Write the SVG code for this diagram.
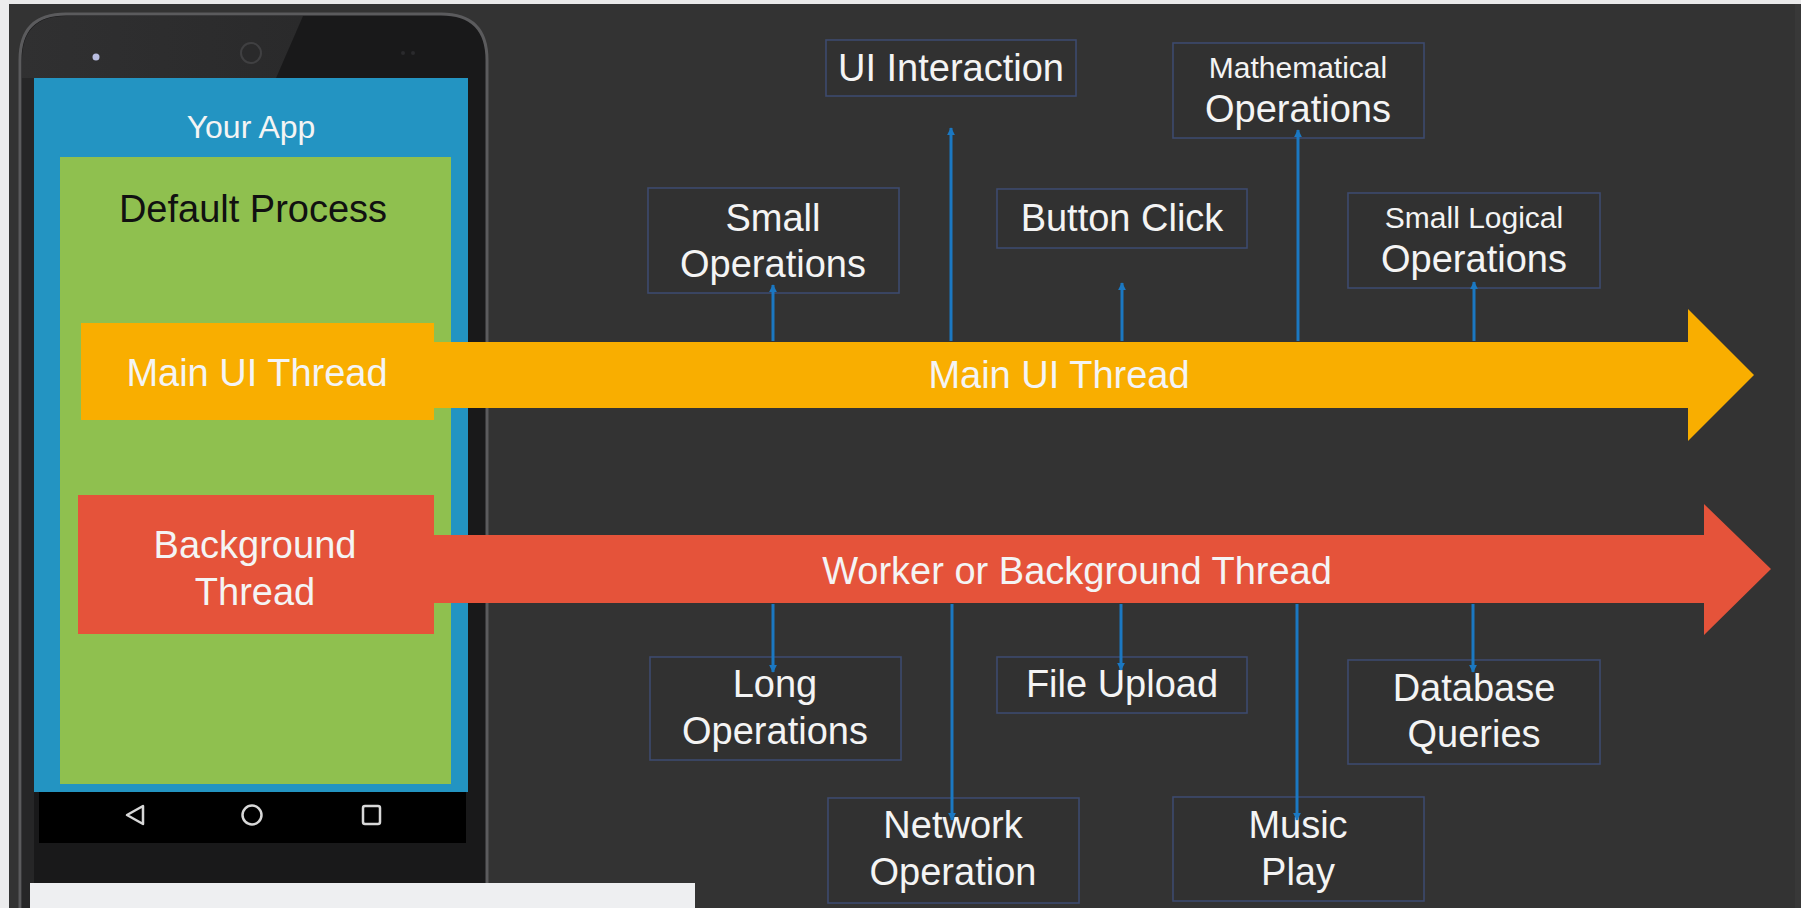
<svg xmlns="http://www.w3.org/2000/svg" width="1801" height="908" viewBox="0 0 1801 908">
  <defs>
    <style>
      .box { fill: #313131; stroke: #3d4a6e; stroke-width: 1.6; }
      .lbl { font-family: "Liberation Sans", Arial, sans-serif; fill: #f4f4f4; text-anchor: middle; }
      .big { font-size: 38px; }
      .small { font-size: 30px; }
      .link { stroke: #1b78c2; stroke-width: 3; fill: none; }
      .nav { fill: none; stroke: #d8d8d8; stroke-width: 2.5; }
    </style>
    <marker id="tip" viewBox="0 0 10 10" refX="9" refY="5" markerWidth="8" markerHeight="8" markerUnits="userSpaceOnUse" orient="auto">
      <path d="M0,0 L10,5 L0,10 Z" fill="#1b78c2"/>
    </marker>
    <linearGradient id="bezelShade" x1="0" y1="0" x2="1" y2="0">
      <stop offset="0" stop-color="#303031"/>
      <stop offset="1" stop-color="#2a2a2b"/>
    </linearGradient>
  </defs>

  <!-- page -->
  <rect x="0" y="0" width="1801" height="908" fill="#333333"/>
  <rect x="0" y="0" width="1801" height="4" fill="#e9e9ea"/>
  <rect x="0" y="0" width="9" height="908" fill="#ececed"/>
  <rect x="1795" y="4" width="6" height="904" fill="#383838"/>

  <!-- phone -->
  <g id="phone">
    <path d="M20,60 Q20,14 66,14 L441,14 Q487,14 487,60 L487,920 L20,920 Z" fill="#19191a" stroke="#5b5b5d" stroke-width="3"/>
    <path d="M22,60 Q22,16 66,16 L303,16 L276,78 L22,78 Z" fill="url(#bezelShade)"/>
    <rect x="22" y="78" width="12" height="842" fill="#262627"/>
    <circle cx="96" cy="57" r="3.5" fill="#b9bde0"/>
    <circle cx="251" cy="53" r="10" fill="#2a2a2b" stroke="#404042" stroke-width="2"/>
    <circle cx="403" cy="53" r="2" fill="#2a2a2c"/>
    <circle cx="413" cy="53" r="2" fill="#2a2a2c"/>
  </g>

  <!-- screen -->
  <g id="your-app">
    <rect x="34" y="78" width="434" height="714" fill="#2394c2"/>
    <text class="lbl" x="251" y="138" font-size="32">Your App</text>
  </g>
  <g id="default-process">
    <rect x="60" y="157" width="391" height="627" fill="#8fc04f"/>
    <text class="lbl" x="253" y="222" font-size="38" style="fill:#111111">Default Process</text>
  </g>
  <g id="nav-bar">
    <rect x="39" y="792" width="427" height="51" fill="#000000"/>
    <path class="nav" d="M127,815 L143,806 L143,824 Z" stroke-linejoin="round"/>
    <circle class="nav" cx="252" cy="815" r="9.5"/>
    <rect class="nav" x="363" y="806" width="17" height="18" rx="2"/>
  </g>

  <!-- threads -->
  <g id="main-ui-thread">
    <rect x="81" y="323" width="353" height="97" fill="#f9ae00"/>
    <polygon points="433,342 1688,342 1688,309 1754,375 1688,441 1688,408 433,408" fill="#f9ae00"/>
    <text class="lbl big" x="257" y="386">Main UI Thread</text>
    <text class="lbl big" x="1059" y="388">Main UI Thread</text>
  </g>
  <g id="background-thread">
    <rect x="78" y="495" width="356" height="139" fill="#e5533a"/>
    <polygon points="433,535 1704,535 1704,504 1771,569 1704,635 1704,603 433,603" fill="#e5533a"/>
    <text class="lbl big" x="255" y="558">Background</text>
    <text class="lbl big" x="255" y="605">Thread</text>
    <text class="lbl big" x="1077" y="584">Worker or Background Thread</text>
  </g>

  <!-- main-thread tasks -->
  <g id="ui-interaction">
    <rect class="box" x="826" y="40" width="250" height="56"/>
    <text class="lbl big" x="951" y="81">UI Interaction</text>
  </g>
  <g id="small-operations">
    <rect class="box" x="648" y="188" width="251" height="105"/>
    <text class="lbl big" x="773" y="231">Small</text>
    <text class="lbl big" x="773" y="277">Operations</text>
  </g>
  <g id="button-click">
    <rect class="box" x="997" y="189" width="250" height="59"/>
    <text class="lbl big" x="1122" y="231">Button Click</text>
  </g>
  <g id="mathematical-operations">
    <rect class="box" x="1173" y="43" width="251" height="95"/>
    <text class="lbl small" x="1298" y="78">Mathematical</text>
    <text class="lbl big" x="1298" y="122">Operations</text>
  </g>
  <g id="small-logical-operations">
    <rect class="box" x="1348" y="193" width="252" height="95"/>
    <text class="lbl small" x="1474" y="228">Small Logical</text>
    <text class="lbl big" x="1474" y="272">Operations</text>
  </g>

  <!-- worker-thread tasks -->
  <g id="long-operations">
    <rect class="box" x="650" y="657" width="251" height="103"/>
    <text class="lbl big" x="775" y="697">Long</text>
    <text class="lbl big" x="775" y="744">Operations</text>
  </g>
  <g id="file-upload">
    <rect class="box" x="997" y="657" width="250" height="56"/>
    <text class="lbl big" x="1122" y="697">File Upload</text>
  </g>
  <g id="network-operation">
    <rect class="box" x="828" y="798" width="251" height="105"/>
    <text class="lbl big" x="953" y="838">Network</text>
    <text class="lbl big" x="953" y="885">Operation</text>
  </g>
  <g id="music-play">
    <rect class="box" x="1173" y="797" width="251" height="104"/>
    <text class="lbl big" x="1298" y="838">Music</text>
    <text class="lbl big" x="1298" y="885">Play</text>
  </g>
  <g id="database-queries">
    <rect class="box" x="1348" y="660" width="252" height="104"/>
    <text class="lbl big" x="1474" y="701">Database</text>
    <text class="lbl big" x="1474" y="747">Queries</text>
  </g>

  <!-- connectors -->
  <g id="connectors">
    <line class="link" x1="773" y1="341" x2="773" y2="285" marker-end="url(#tip)"/>
    <line class="link" x1="951" y1="341" x2="951" y2="128" marker-end="url(#tip)"/>
    <line class="link" x1="1122" y1="341" x2="1122" y2="283" marker-end="url(#tip)"/>
    <line class="link" x1="1298" y1="341" x2="1298" y2="130" marker-end="url(#tip)"/>
    <line class="link" x1="1474" y1="341" x2="1474" y2="282" marker-end="url(#tip)"/>
    <line class="link" x1="773" y1="604" x2="773" y2="672" marker-end="url(#tip)"/>
    <line class="link" x1="952" y1="604" x2="952" y2="820" marker-end="url(#tip)"/>
    <line class="link" x1="1121" y1="604" x2="1121" y2="670" marker-end="url(#tip)"/>
    <line class="link" x1="1297" y1="604" x2="1297" y2="820" marker-end="url(#tip)"/>
    <line class="link" x1="1473" y1="604" x2="1473" y2="672" marker-end="url(#tip)"/>
  </g>

  <!-- caption strip -->
  <rect x="30" y="883" width="665" height="25" fill="#eeeff1"/>
</svg>
